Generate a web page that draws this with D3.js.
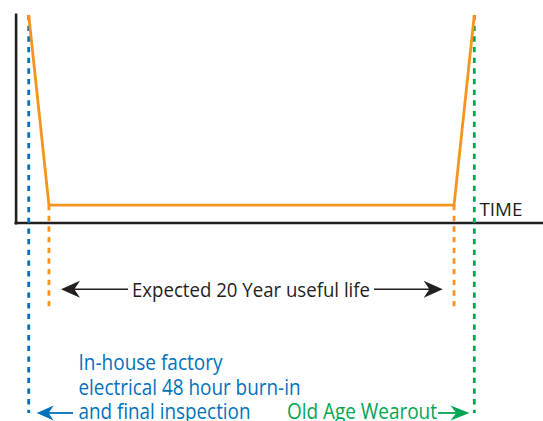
<!DOCTYPE html>
<html>
<head>
<meta charset="utf-8">
<script src="https://cdn.jsdelivr.net/npm/d3@7"></script>
<style>
  html, body { margin: 0; padding: 0; background: #fff; }
  svg { display: block; }
  text { font-family: "Open Sans", "Noto Sans", sans-serif; }
</style>
</head>
<body>
<div id="chart"></div>
<script>
// ---- data ----
const curveYears = [-1, 0, 20, 21];          // time (years) of bathtub curve vertices
const failureRate = [100, 8.4, 8.4, 100];     // relative failure rate
const markerYears = [-1, 0, 20, 21];          // vertical guide lines
const markerNames = ["burn-in", "life start", "life end", "wearout"];
const axisLabel = "TIME";
const lifeLabel = "Expected 20 Year useful life";
const burnInLines = ["In-house factory", "electrical 48 hour burn-in", "and final inspection"];
const wearoutLabel = "Old Age Wearout";

// ---- layout ----
const W = 543, H = 421;
const BLACK = "#231f20", ORANGE = "#f7941d", BLUE = "#0072bc", GREEN = "#00a651";

const svg = d3.select("#chart").append("svg").attr("width", W).attr("height", H);

const x = d3.scaleLinear().domain([-1, 21]).range([28.7, 474.3]);
const y = d3.scaleLinear().domain([0, 100]).range([222.5, 15]);

// axes (no ticks)
const axisX = d3.scaleLinear().domain([0, 1]).range([14, 543]);
const axisY = d3.scaleLinear().domain([0, 1]).range([224, 13]);
svg.append("g").attr("transform", `translate(0,${y(0)})`)
  .call(d3.axisBottom(axisX).ticks(0).tickSizeOuter(0))
  .call(g => g.select(".domain").attr("stroke", BLACK).attr("stroke-width", 2.6));
svg.append("g").attr("transform", "translate(15.6,0)")
  .call(d3.axisLeft(axisY).ticks(0).tickSizeOuter(0))
  .call(g => g.select(".domain").attr("stroke", BLACK).attr("stroke-width", 2.6));

// guide lines
const guideSpec = [
  { y1: 15, y2: 413, color: BLUE },
  { y1: 205, y2: 307, color: ORANGE },
  { y1: 205, y2: 307, color: ORANGE },
  { y1: 15, y2: 413, color: GREEN }
];
svg.append("g").selectAll("line").data(markerYears).join("line")
  .attr("x1", d => x(d)).attr("x2", d => x(d))
  .attr("y1", (d, i) => guideSpec[i].y1).attr("y2", (d, i) => guideSpec[i].y2)
  .attr("stroke", (d, i) => guideSpec[i].color)
  .attr("stroke-width", 2.8)
  .attr("stroke-dasharray", "5.3,5.37");

// bathtub curve
const pts = curveYears.map((t, i) => [x(t), y(failureRate[i])]);
svg.append("path").attr("d", d3.line()(pts))
  .attr("fill", "none").attr("stroke", ORANGE).attr("stroke-width", 2.8)
  .attr("stroke-linejoin", "miter");

// arrowhead helper
function arrowHead(tipX, tipY, dir, len, half, color) {
  const p = d3.path();
  p.moveTo(tipX, tipY);
  p.lineTo(tipX - dir * len, tipY - half);
  p.lineTo(tipX - dir * len * 0.7, tipY);
  p.lineTo(tipX - dir * len, tipY + half);
  p.closePath();
  svg.append("path").attr("d", p.toString()).attr("fill", color);
}

// axis label
svg.append("text").attr("x", 479.5).attr("y", 216).attr("font-size", 18.5)
  .attr("fill", BLACK).text(axisLabel)
  .attr("textLength", 43).attr("lengthAdjust", "spacingAndGlyphs");

// useful life arrow
const lifeY = 289.3;
svg.append("line").attr("x1", 70).attr("x2", 128).attr("y1", lifeY).attr("y2", lifeY)
  .attr("stroke", BLACK).attr("stroke-width", 1.5);
svg.append("line").attr("x1", 374).attr("x2", 436).attr("y1", lifeY).attr("y2", lifeY)
  .attr("stroke", BLACK).attr("stroke-width", 1.5);
arrowHead(61, lifeY, -1, 19, 8.5, BLACK);
arrowHead(442.7, lifeY, 1, 19, 8.5, BLACK);
svg.append("text").attr("x", 132).attr("y", 297).attr("font-size", 20)
  .attr("fill", BLACK).text(lifeLabel)
  .attr("textLength", 238).attr("lengthAdjust", "spacingAndGlyphs");

// burn-in text
const burnWidths = [144, 222, 172];
svg.append("g").selectAll("text").data(burnInLines).join("text")
  .attr("x", 78.5).attr("y", (d, i) => 370 + i * 24.5)
  .attr("font-size", 21).attr("fill", BLUE)
  .attr("textLength", (d, i) => burnWidths[i]).attr("lengthAdjust", "spacingAndGlyphs")
  .text(d => d);
const arrowY = 413;
svg.append("line").attr("x1", 45).attr("x2", 73).attr("y1", arrowY).attr("y2", arrowY)
  .attr("stroke", BLUE).attr("stroke-width", 1.8);
arrowHead(36.7, arrowY, -1, 17, 7.5, BLUE);

// wearout text
svg.append("text").attr("x", 287).attr("y", 418.5).attr("font-size", 21)
  .attr("fill", GREEN).text(wearoutLabel)
  .attr("textLength", 150).attr("lengthAdjust", "spacingAndGlyphs");
svg.append("line").attr("x1", 438).attr("x2", 462).attr("y1", arrowY).attr("y2", arrowY)
  .attr("stroke", GREEN).attr("stroke-width", 1.8);
arrowHead(469.5, arrowY, 1, 19, 7.5, GREEN);
</script>
</body>
</html>
